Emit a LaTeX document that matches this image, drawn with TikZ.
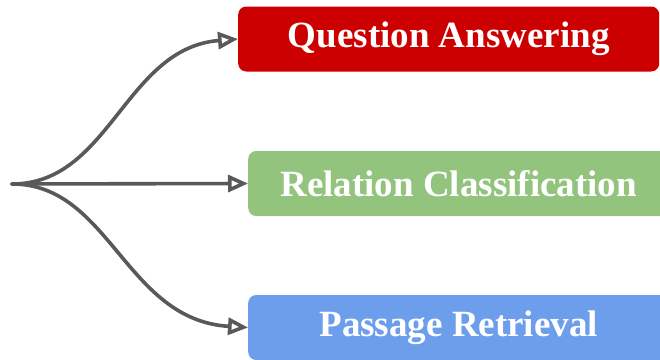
\documentclass[tikz,border=0pt]{standalone}
\usepackage{fontspec}
\setmainfont{Liberation Serif}
\usetikzlibrary{arrows.meta}
\usetikzlibrary{positioning}
\definecolor{qared}{HTML}{CC0000}
\definecolor{rcgreen}{HTML}{93C47D}
\definecolor{prblue}{HTML}{6D9EEB}
\definecolor{arrowgray}{HTML}{595959}
\begin{document}
\begin{tikzpicture}[x=1pt,y=-1pt,line cap=round,line join=round,
  task/.style={rectangle,rounded corners=8pt,anchor=west,minimum width=421pt,minimum height=65pt,
    text=white,font=\fontsize{37}{40}\selectfont\bfseries},
  branch/.style={color=arrowgray,line width=3.6pt,-{Triangle[open,length=20pt,width=17pt]}}]
\useasboundingbox (0,0) rectangle (660,359);
\clip (0,0) rectangle (660,359);
\coordinate (src) at (12,184);
\node[task,fill=qared] (qa) at (238,39) {Question Answering};
\node[task,fill=rcgreen] (rc) at (248,183.5) {Relation Classification};
\node[task,fill=prblue] (pr) at (248,327.5) {Passage Retrieval};
\draw[branch] (src) .. controls (110,184) and (125,48) .. (qa.west);
\draw[branch] (src) -- (rc.west);
\draw[branch] (src) .. controls (110,184) and (125,320) .. (pr.west);
\end{tikzpicture}
\end{document}
